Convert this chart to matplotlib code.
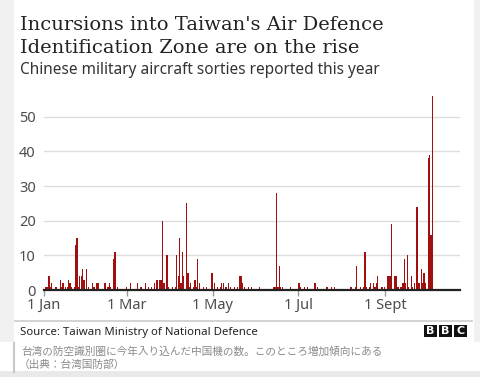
import matplotlib
matplotlib.use("Agg")
import matplotlib.pyplot as plt
from matplotlib.patches import Rectangle
import numpy as np

# ---- data: days since 1 Jan 2021 and sorties reported that day ----
days = [1, 2, 3, 4, 5, 8, 11, 12, 13, 15, 16, 17, 18, 19, 21, 22, 23, 24, 25, 26,
        27, 28, 30, 31, 34, 35, 37, 38, 43, 45, 46, 47, 49, 50, 52, 58, 61, 66, 68, 69,
        72, 74, 76, 78, 80, 82, 83, 84, 85, 87, 88, 91, 93, 94, 95, 96, 97, 98, 99, 101,
        102, 103, 104, 106, 107, 108, 109, 110, 113, 115, 119, 121, 123, 125, 126, 127, 129, 131, 132, 135,
        137, 139, 140, 141, 142, 145, 147, 153, 163, 164, 165, 166, 167, 168, 169, 175, 181, 182, 185, 187,
        192, 193, 194, 201, 204, 206, 218, 221, 222, 225, 227, 228, 229, 231, 232, 234, 235, 236, 237, 240,
        242, 244, 245, 246, 247, 249, 250, 251, 252, 253, 254, 255, 256, 257, 258, 259, 261, 262, 263, 265,
        266, 267, 268, 269, 270, 271, 273, 274, 275, 276]
sorties = [1, 1, 4, 1, 2, 1, 3, 1, 2, 1, 1, 3, 2, 1, 1, 13, 15, 1, 4, 4,
           6, 3, 6, 1, 2, 1, 2, 2, 2, 1, 2, 1, 9, 11, 1, 1, 2, 2, 1, 1,
           2, 1, 1, 2, 3, 3, 3, 20, 2, 10, 1, 1, 1, 10, 4, 15, 2, 11, 4, 25,
           5, 1, 2, 1, 3, 1, 9, 2, 1, 1, 5, 2, 1, 1, 2, 2, 1, 2, 1, 1,
           1, 4, 4, 2, 1, 1, 1, 1, 1, 1, 28, 1, 7, 1, 1, 1, 2, 1, 1, 1,
           2, 2, 1, 1, 1, 1, 1, 1, 7, 1, 1, 11, 1, 1, 2, 2, 1, 2, 4, 1,
           1, 4, 4, 4, 19, 4, 4, 1, 1, 1, 1, 2, 9, 2, 10, 1, 4, 1, 2, 24,
           2, 2, 6, 2, 5, 2, 38, 39, 16, 56]
tick_days = [0, 59, 120, 181, 243]
tick_labels = ["1 Jan", "1 Mar", "1 May", "1 Jul", "1 Sept"]
y_ticks = [0, 10, 20, 30, 40, 50]

title_lines = ["Incursions into Taiwan's Air Defence", "Identification Zone are on the rise"]
subtitle = "Chinese military aircraft sorties reported this year"
source = "Source: Taiwan Ministry of National Defence"
caption1 = "台湾の防空識別圏に今年入り込んだ中国機の数。このところ増加傾向にある"
caption2 = "（出典：台湾国防部）"

W, H = 480, 377
fig = plt.figure(figsize=(W / 100, H / 100), dpi=100, facecolor="white")

def fx(x):
    return x / W

def fy(y):
    return 1 - y / H

# background framing
fig.patches.append(Rectangle((0, fy(342)), fx(14), 342 / H, transform=fig.transFigure,
                             facecolor="#f1f1f1", edgecolor="none", zorder=0))
fig.patches.append(Rectangle((fx(474), fy(342)), 1 - fx(474), 342 / H, transform=fig.transFigure,
                             facecolor="#f1f1f1", edgecolor="none", zorder=0))
fig.patches.append(Rectangle((0, 0), 1, fy(371), transform=fig.transFigure,
                             facecolor="#e9e9e9", edgecolor="none", zorder=0))

# axes geometry
px_per_unit = (290 - 116.7) / 50
ytop = 57
ax_left, ax_right, ax_bottom = 44, 460, 290
ax_top = ax_bottom - ytop * px_per_unit
ax = fig.add_axes([fx(ax_left), fy(ax_bottom), fx(ax_right - ax_left), (ax_bottom - ax_top) / H])
ax.set_facecolor("none")

xmax = (ax_right - ax_left) / 1.405
ax.bar(np.array(days) + 0.5, sorties, width=0.9, color="#a01010", linewidth=0, zorder=3)
ax.set_xlim(0, xmax)
ax.set_ylim(0, ytop)

for s in ["top", "right", "left"]:
    ax.spines[s].set_visible(False)
ax.spines["bottom"].set_color("#222222")
ax.spines["bottom"].set_linewidth(1.6)
ax.spines["bottom"].set_zorder(4)

ax.set_yticks(y_ticks)
ax.set_yticklabels([str(v) for v in y_ticks], fontsize=10.5, color="#4d4d4d", family="Noto Sans")
ax.tick_params(axis="y", length=0, pad=6)
ax.yaxis.grid(True, color="#dedede", linewidth=1.0, zorder=0)
ax.set_axisbelow(True)

ax.set_xticks(tick_days)
ax.set_xticklabels(tick_labels, fontsize=10.5, color="#4d4d4d", family="Noto Sans")
ax.tick_params(axis="x", length=4, width=1, color="#999999", pad=2)

# titles
fig.text(fx(20), fy(30), title_lines[0], fontsize=14.0,
         family="DejaVu Serif", color="#222222", va="baseline", ha="left")
fig.text(fx(20), fy(52.7), title_lines[1], fontsize=14.0,
         family="DejaVu Serif", color="#222222", va="baseline", ha="left")
fig.text(fx(20), fy(74.5), subtitle, fontsize=11.1, family="Noto Sans",
         color="#333333", va="baseline", ha="left")

# footer
fig.add_artist(plt.Line2D([fx(15), fx(472)], [fy(321), fy(321)], color="#cccccc", linewidth=1.2))
fig.text(fx(20), fy(334.5), source, fontsize=8.2, family="Noto Sans", color="#222222",
         va="baseline", ha="left")
for i, letter in enumerate("BBC"):
    x0 = 424 + i * 15
    fig.patches.append(Rectangle((fx(x0), fy(336.5)), fx(13), 12 / H, transform=fig.transFigure,
                                 facecolor="#111111", edgecolor="none"))
    fig.text(fx(x0 + 6.5), fy(330.5), letter, fontsize=8, fontweight="bold", family="DejaVu Sans",
             color="white", ha="center", va="center")

# caption
fig.add_artist(plt.Line2D([fx(14), fx(14)], [fy(343), fy(372)], color="#c8c8c8", linewidth=1.5))
fig.text(fx(21), fy(355), caption1, fontsize=7.7, family=["Noto Sans CJK JP", "DejaVu Sans"],
         color="#8a8a8a", va="baseline", ha="left")
fig.text(fx(19), fy(368), caption2, fontsize=7.7, family=["Noto Sans CJK JP", "DejaVu Sans"],
         color="#8a8a8a", va="baseline", ha="left")

fig.savefig("out.png", dpi=100, facecolor=fig.get_facecolor())
